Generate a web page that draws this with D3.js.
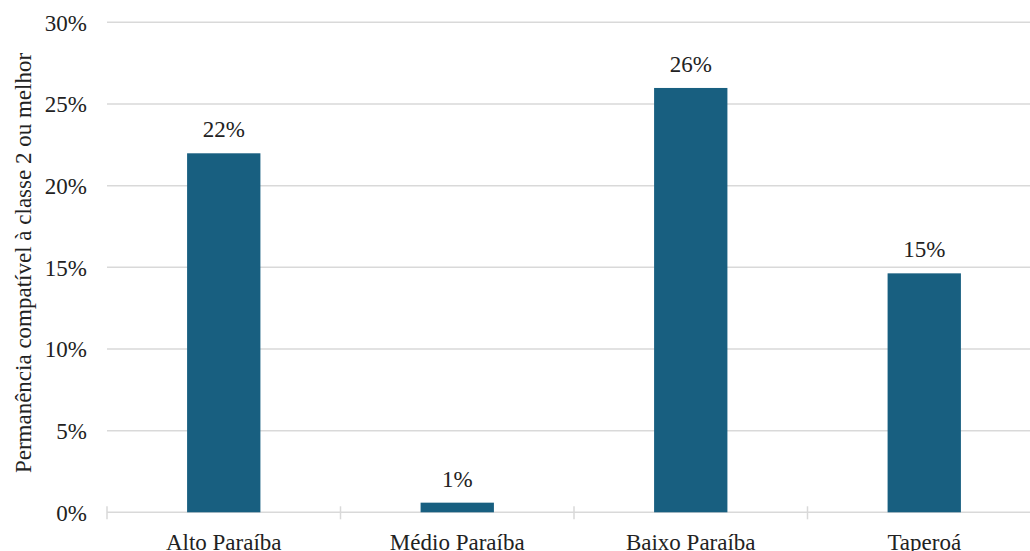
<!DOCTYPE html>
<html>
<head>
<meta charset="utf-8">
<script src="https://cdn.jsdelivr.net/npm/d3@7"></script>
<style>
  html, body { margin: 0; padding: 0; background: #fff; overflow: hidden; }
</style>
</head>
<body>
<div id="chart"></div>
<script>
const categories = ['Alto Paraíba', 'Médio Paraíba', 'Baixo Paraíba', 'Taperoá'];
const values = [0.2198, 0.0059, 0.2598, 0.1463];
const labels = ['22%', '1%', '26%', '15%'];
const yTicks = [0, 0.05, 0.10, 0.15, 0.20, 0.25, 0.30];

const width = 1030;
const height = 551;
const margin = { top: 22.3, right: -11, bottom: 38.7, left: 107 };
const innerW = width - margin.left - margin.right;
const innerH = height - margin.top - margin.bottom;
const font = "'Times New Roman', 'Liberation Serif', 'DejaVu Serif', 'Noto Serif', serif";
const fontSize = '23px';

const svg = d3
  .select('#chart')
  .append('svg')
  .attr('width', width)
  .attr('height', height)
  .attr('font-family', font)
  .style('font-family', font);

const g = svg.append('g').attr('transform', `translate(${margin.left},${margin.top})`);

const x = d3.scaleBand().domain(categories).range([0, innerW]).paddingInner(0.686).paddingOuter(0.343);
const y = d3.scaleLinear().domain([0, 0.30]).range([innerH, 0]);

// gridlines
g.selectAll('.grid')
  .data(yTicks)
  .enter()
  .append('line')
  .attr('class', 'grid')
  .attr('x1', 0)
  .attr('x2', innerW)
  .attr('y1', (d) => y(d))
  .attr('y2', (d) => y(d))
  .attr('stroke', '#d9d9d9')
  .attr('stroke-width', 1.5);

// y tick labels
g.selectAll('.ylab')
  .data(yTicks)
  .enter()
  .append('text')
  .attr('class', 'ylab')
  .attr('x', -20)
  .attr('y', (d) => y(d))
  .attr('dy', '0.36em')
  .attr('text-anchor', 'end')
  .attr('fill', '#222')
  .style('font-size', fontSize)
  .text(d3.format('.0%'));

// category boundary ticks
const boundaries = d3.range(categories.length + 1).map((i) => i * (innerW / categories.length));
g.selectAll('.xtick')
  .data(boundaries)
  .enter()
  .append('line')
  .attr('x1', (d) => d)
  .attr('x2', (d) => d)
  .attr('y1', innerH - 6)
  .attr('y2', innerH + 7)
  .attr('stroke', '#d9d9d9')
  .attr('stroke-width', 1.5);

// bars
g.selectAll('.bar')
  .data(values)
  .enter()
  .append('rect')
  .attr('class', 'bar')
  .attr('x', (d, i) => x(categories[i]))
  .attr('width', x.bandwidth())
  .attr('y', (d) => y(d))
  .attr('height', (d) => innerH - y(d))
  .attr('fill', '#185f80');

// value labels
g.selectAll('.vlab')
  .data(values)
  .enter()
  .append('text')
  .attr('class', 'vlab')
  .attr('x', (d, i) => x(categories[i]) + x.bandwidth() / 2)
  .attr('y', (d) => y(d) - 16)
  .attr('text-anchor', 'middle')
  .attr('fill', '#222')
  .style('font-size', fontSize)
  .text((d, i) => labels[i]);

// category labels
g.selectAll('.xlab')
  .data(categories)
  .enter()
  .append('text')
  .attr('class', 'xlab')
  .attr('x', (d) => x(d) + x.bandwidth() / 2)
  .attr('y', innerH + 38)
  .attr('text-anchor', 'middle')
  .attr('fill', '#222')
  .style('font-size', fontSize)
  .text((d) => d);

// y axis title
svg
  .append('text')
  .attr('transform', `translate(31,263) rotate(-90)`)
  .attr('text-anchor', 'middle')
  .attr('fill', '#222')
  .style('font-size', fontSize)
  .text('Permanência compatível à classe 2 ou melhor');
</script>
</body>
</html>
